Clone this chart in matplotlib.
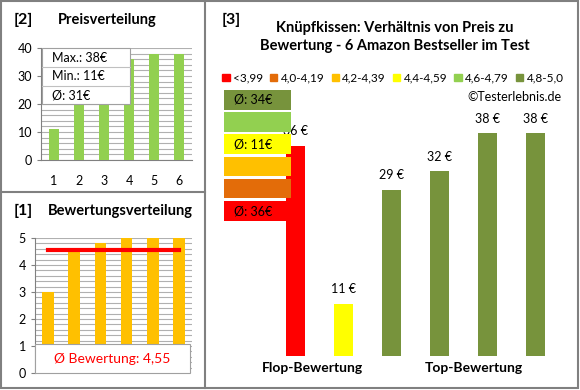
import matplotlib.pyplot as plt
from matplotlib.patches import Rectangle, Patch
from matplotlib.ticker import MultipleLocator

plt.rcParams['font.family'] = ['Lato', 'DejaVu Sans']

# Daten
preise = [36, 11, 29, 32, 38, 38]          # Preis je Produkt (EUR)
bewertungen = [3.0, 4.5, 4.8, 5.0, 5.0, 5.0]  # Bewertung je Produkt
klassen = ['<3,99', '4,0-4,19', '4,2-4,39', '4,4-4,59', '4,6-4,79', '4,8-5,0']
klassen_farben = ['#FF0000', '#E36C09', '#FFC000', '#FFFF00', '#92D050', '#77933C']
klassen_grenzen = [3.995, 4.195, 4.395, 4.595, 4.795, 5.01]
gruppen = ['Flop-Bewertung', 'Top-Bewertung']

W, H = 580, 390
def fx(x): return x / W
def fy(y): return 1 - y / H

def klasse(b):
    for i, g in enumerate(klassen_grenzen):
        if b < g:
            return i
    return len(klassen_grenzen) - 1

fig = plt.figure(figsize=(5.8, 3.9), dpi=100)
grau = '#808080'

# Rahmen
fig.add_artist(Rectangle((fx(1), fy(388)), 577 / W, 387 / H,
                         transform=fig.transFigure, fill=False, ec=grau, lw=1.5))
fig.add_artist(plt.Line2D([fx(205), fx(205)], [fy(1), fy(388)], color=grau, lw=1.5))
fig.add_artist(plt.Line2D([fx(0), fx(205)], [fy(192), fy(192)], color=grau, lw=1.5))

# ---------- [2] Preisverteilung ----------
ax2 = fig.add_axes([fx(41), fy(160), (192 - 41) / W, (160 - 48) / H])
ps = sorted(preise)
x = range(1, 7)
ax2.bar(x, ps, width=0.4, color='#92D050', zorder=3)
ax2.set_ylim(0, 40)
ax2.set_xlim(0.5, 6.5)
ax2.yaxis.set_major_locator(MultipleLocator(10))
ax2.yaxis.set_minor_locator(MultipleLocator(2))
ax2.grid(axis='y', which='both', color='#B0B0B0', lw=0.8, zorder=0)
for s in ['top', 'right']:
    ax2.spines[s].set_visible(False)
ax2.spines['left'].set_color(grau)
ax2.spines['bottom'].set_color(grau)
ax2.tick_params(axis='y', which='major', labelsize=9, length=3, color=grau)
ax2.tick_params(axis='y', which='minor', length=0)
ax2.tick_params(axis='x', labelsize=9, length=0, pad=11)
ax2.set_xticks(list(x))
fig.text(fx(14), fy(20), '[2]', fontsize=11.5, fontweight='bold', va='center')
fig.text(fx(58), fy(20), 'Preisverteilung', fontsize=10.5, fontweight='bold', va='center')

infos = ['Max.: %d€' % max(preise), 'Min.: %d€' % min(preise),
         'Ø: %d€' % round(sum(preise) / len(preise))]
fig.add_artist(Rectangle((fx(42), fy(104)), 88 / W, 56 / H, transform=fig.transFigure,
                         fc='white', ec='#A0A0A0', lw=0.8, zorder=5))
for i, t in enumerate(infos):
    y0 = 48 + i * 19
    if i > 0:
        fig.add_artist(plt.Line2D([fx(42), fx(130)], [fy(y0), fy(y0)], color='#C0C0C0', lw=0.8, zorder=6))
    fig.text(fx(52), fy(y0 + 9.5), t, fontsize=9, va='center', zorder=7)

# ---------- [1] Bewertungsverteilung ----------
ax1 = fig.add_axes([fx(35), fy(373), (192 - 35) / W, (373 - 238) / H])
ax1.bar(x, bewertungen, width=0.45, color='#FFC000', zorder=3)
mittel = sum(bewertungen) / len(bewertungen)
ax1.plot([1, 6], [mittel, mittel], color='#FF0000', lw=3, zorder=4)
ax1.set_ylim(0, 5)
ax1.set_xlim(0.5, 6.5)
ax1.yaxis.set_major_locator(MultipleLocator(1))
ax1.yaxis.set_minor_locator(MultipleLocator(0.2))
ax1.grid(axis='y', which='both', color='#B0B0B0', lw=0.8, zorder=0)
for s in ['top', 'right', 'bottom']:
    ax1.spines[s].set_visible(False)
ax1.spines['left'].set_color(grau)
ax1.set_xticks([])
ax1.tick_params(axis='y', which='major', labelsize=9, length=3, color=grau)
ax1.tick_params(axis='y', which='minor', length=0)
fig.text(fx(14), fy(211), '[1]', fontsize=11.5, fontweight='bold', va='center')
fig.text(fx(48), fy(211), 'Bewertungsverteilung', fontsize=10.5, fontweight='bold', va='center')
fig.add_artist(Rectangle((fx(35), fy(373)), 155 / W, 29 / H, transform=fig.transFigure,
                         fc='white', ec='#A0A0A0', lw=0.8, zorder=5))
fig.text(fx(112), fy(359), 'Ø Bewertung: ' + ('%.2f' % mittel).replace('.', ','),
         fontsize=10, color='#FF0000', ha='center', va='center', zorder=7)

# ---------- [3] Preis / Bewertung ----------
ax3 = fig.add_axes([fx(271.5), fy(355.7), 288 / W, (355.7 - 100) / H])
farben = [klassen_farben[klasse(b)] for b in bewertungen]
pos = range(len(preise))
ax3.bar(pos, preise, width=0.4, color=farben, zorder=3)
ax3.set_xlim(-0.5, 5.5)
ax3.set_ylim(2.77, 43.2)
ax3.axis('off')
for p, v in zip(pos, preise):
    ax3.annotate('%d €' % v, (p, v), xytext=(0, 6), textcoords='offset points',
                 ha='center', va='bottom', fontsize=9)

fig.text(fx(222), fy(20), '[3]', fontsize=11.5, fontweight='bold', va='center')
fig.text(fx(395), fy(37), 'Knüpfkissen: Verhältnis von Preis zu\nBewertung - 6 Amazon Bestseller im Test',
         fontsize=10.5, fontweight='bold', ha='center', va='center', linespacing=1.45)

handles = [Patch(color=c, label=l) for c, l in zip(klassen_farben, klassen)]
fig.legend(handles=handles, loc='center', bbox_to_anchor=(fx(393), fy(78)), ncol=6,
           frameon=False, fontsize=8.5, handlelength=0.6, handleheight=0.6,
           handletextpad=0.3, columnspacing=0.6, borderpad=0)
fig.text(fx(562), fy(97), '©Testerlebnis.de', fontsize=9, ha='right', va='center')

fig.text(fx(312), fy(368), gruppen[0], fontsize=10, fontweight='bold', ha='center', va='center')
fig.text(fx(474), fy(368), gruppen[1], fontsize=10, fontweight='bold', ha='center', va='center')

# Farbkaesten mit Durchschnittspreisen (von oben: beste Klasse)
for j, k in enumerate(reversed(range(len(klassen)))):
    top = 90 + j * 22.2
    ax_left = 223.5
    fig.add_artist(Rectangle((fx(ax_left), fy(top + 19.5)), (291 - ax_left) / W, 19.5 / H,
                             transform=fig.transFigure, fc=klassen_farben[k], ec='none', zorder=5))
    werte = [p for p, b in zip(preise, bewertungen) if klasse(b) == k]
    if werte:
        fig.text(fx(234), fy(top + 10), 'Ø: %d€' % round(sum(werte) / len(werte)),
                 fontsize=9, va='center', zorder=6)

fig.savefig('out.png', dpi=100)
